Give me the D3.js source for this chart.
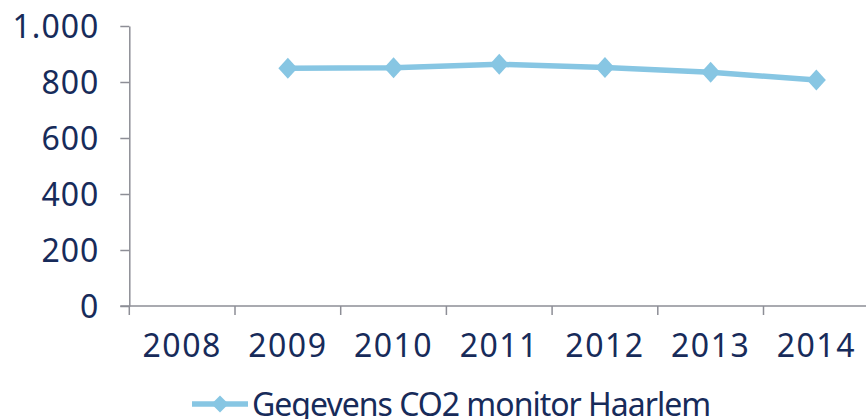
<!DOCTYPE html>
<html>
<head>
<meta charset="utf-8">
<script src="https://cdn.jsdelivr.net/npm/d3@7"></script>
<style>
html,body{margin:0;padding:0;background:#fff;}
svg{display:block;}
text{font-family:"Noto Sans",sans-serif;fill:#172b5a;}
</style>
</head>
<body>
<svg id="chart" width="866" height="419"></svg>
<script>
const categories = ["2008","2009","2010","2011","2012","2013","2014"];
const years = ["2009","2010","2011","2012","2013","2014"];
const values = [849, 851, 863, 852, 835, 807];
const yTicks = [0, 200, 400, 600, 800, 1000];
const seriesName = "Gegevens CO2 monitor Haarlem";

const W = 866, H = 419;
const svg = d3.select("#chart");
const axisColor = "#8d8e96";
const lineColor = "#87c6e3";
const fontSize = 32;

const x = d3.scaleBand().domain(categories).range([129.3, 869.2]).padding(0);
const y = d3.scaleLinear().domain([0, 1000]).range([306, 26]);

const nl = d3.formatLocale({decimal: ",", thousands: ".", grouping: [3], currency: ["", ""]});
const fmt = nl.format(",d");

// Y axis
const yAxis = svg.append("g").attr("transform", `translate(${x.range()[0]},0)`)
  .call(d3.axisLeft(y).tickValues(yTicks).tickFormat(fmt).tickSize(9).tickPadding(21).tickSizeOuter(0));
yAxis.select(".domain").attr("stroke", axisColor).attr("stroke-width", 1.5);
yAxis.selectAll(".tick line").attr("stroke", axisColor).attr("stroke-width", 1.5);
yAxis.selectAll(".tick text").style("font-size", fontSize + "px").style("letter-spacing", "1px")
  .attr("fill", "#172b5a").attr("dy", "0.36em");

// X axis line
const x0 = x.range()[0];
svg.append("line").attr("x1", x0 - 9).attr("x2", W).attr("y1", y(0)).attr("y2", y(0))
  .attr("stroke", axisColor).attr("stroke-width", 1.5);
// tick marks at band edges
const edges = categories.map(c => x(c)).concat([x.range()[1]]);
svg.append("g").selectAll("line").data(edges).join("line")
  .attr("x1", d => d).attr("x2", d => d)
  .attr("y1", y(0)).attr("y2", y(0) + 9)
  .attr("stroke", axisColor).attr("stroke-width", 1.5);
// x labels
svg.append("g").selectAll("text").data(categories).join("text")
  .attr("x", d => x(d) + x.bandwidth() / 2)
  .attr("y", 357)
  .attr("text-anchor", "middle")
  .style("font-size", fontSize + "px")
  .style("letter-spacing", "1.5px")
  .text(d => d);

// series
const pts = years.map((yr, i) => ({yr, v: values[i]}));
const line = d3.line().x(d => x(d.yr) + x.bandwidth() / 2).y(d => y(d.v));
svg.append("path").datum(pts).attr("d", line)
  .attr("fill", "none").attr("stroke", lineColor).attr("stroke-width", 5.5)
  .attr("stroke-linejoin", "round");
const diamond = (cx, cy, hw, hh) => `M${cx},${cy - hh}L${cx + hw},${cy}L${cx},${cy + hh}L${cx - hw},${cy}Z`;
svg.append("g").selectAll("path").data(pts).join("path")
  .attr("d", d => diamond(x(d.yr) + x.bandwidth() / 2, y(d.v), 9.5, 10.5))
  .attr("fill", lineColor);

// legend
const lg = svg.append("g");
lg.append("line").attr("x1", 192).attr("x2", 248).attr("y1", 404).attr("y2", 404)
  .attr("stroke", lineColor).attr("stroke-width", 5.5);
lg.append("path").attr("d", diamond(220, 404, 8.5, 8.5)).attr("fill", lineColor);
lg.append("text").attr("x", 252).attr("y", 416).style("font-size", fontSize + "px")
  .style("letter-spacing", "-1px").text(seriesName);
</script>
</body>
</html>
